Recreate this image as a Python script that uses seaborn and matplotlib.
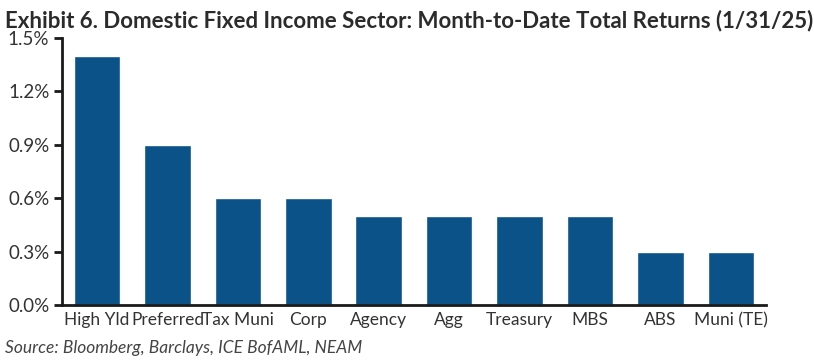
import matplotlib
matplotlib.use("Agg")
import matplotlib.pyplot as plt
import seaborn as sns
import pandas as pd
from matplotlib.ticker import FuncFormatter

sectors = ["High Yld", "Preferred", "Tax Muni", "Corp", "Agency", "Agg",
           "Treasury", "MBS", "ABS", "Muni (TE)"]
returns = [1.40, 0.90, 0.60, 0.60, 0.50, 0.50, 0.50, 0.50, 0.30, 0.30]
y_ticks = [0.0, 0.3, 0.6, 0.9, 1.2, 1.5]

df = pd.DataFrame({"sector": sectors, "ret": returns})

sns.set_style("white")
plt.rcParams["font.family"] = ["Lato", "DejaVu Sans"]

fig = plt.figure(figsize=(8.14, 3.64), dpi=100)
ax = fig.add_axes([0.076, 0.162, 0.865, 0.734])

sns.barplot(data=df, x="sector", y="ret", color="#0b5289", saturation=1,
            width=0.66, ax=ax)

ax.set_ylim(0, 1.5)
ax.set_xlim(-0.5, 9.5)
ax.set_yticks(y_ticks)
ax.yaxis.set_major_formatter(FuncFormatter(lambda v, p: f"{v:.1f}%"))
ax.set_xlabel("")
ax.set_ylabel("")

sns.despine(ax=ax)
for s in ["left", "bottom"]:
    ax.spines[s].set_linewidth(2)
    ax.spines[s].set_color("#1a1a1a")
ax.tick_params(axis="y", length=6, width=2, color="#1a1a1a", labelsize=13.5,
               labelcolor="#333333", pad=3, direction="out", left=True)
ax.tick_params(axis="x", length=0, labelsize=12.5, labelcolor="#333333", pad=5)

fig.text(0.006, 0.945, "Exhibit 6. Domestic Fixed Income Sector: Month-to-Date Total Returns (1/31/25)",
         fontsize=16, fontweight="bold", color="#2b2b2b", va="center")
fig.text(0.006, 0.045, "Source: Bloomberg, Barclays, ICE BofAML, NEAM",
         fontsize=12.5, style="italic", color="#444444", va="center")

fig.savefig("out.png", dpi=100)
